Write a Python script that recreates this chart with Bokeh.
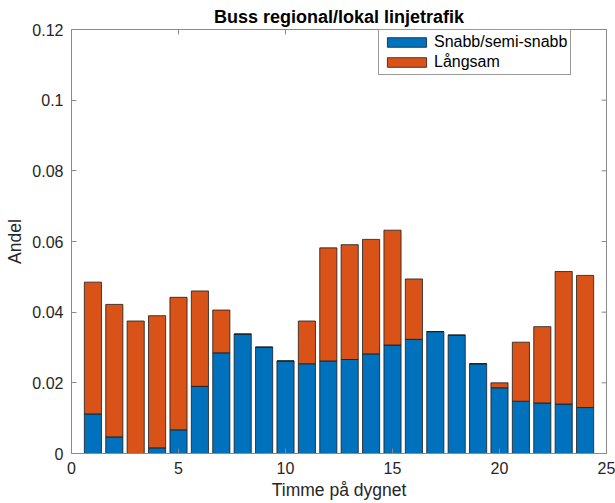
import math
from bokeh.plotting import figure
from bokeh.models import FixedTicker, Range1d, Legend, LegendItem
from bokeh.embed import file_html
from bokeh.resources import INLINE

hours = list(range(1, 25))
snabb = [0.0112, 0.0047, 0.0000, 0.0016, 0.0067, 0.0190, 0.0285, 0.0338,
         0.0301, 0.0262, 0.0254, 0.0262, 0.0266, 0.0282, 0.0307, 0.0323,
         0.0345, 0.0335, 0.0254, 0.0186, 0.0148, 0.0143, 0.0140, 0.0130]
total = [0.0485, 0.0422, 0.0375, 0.0390, 0.0442, 0.0460, 0.0406, 0.0338,
         0.0301, 0.0262, 0.0375, 0.0582, 0.0591, 0.0606, 0.0632, 0.0494,
         0.0345, 0.0335, 0.0254, 0.0200, 0.0315, 0.0359, 0.0515, 0.0504]
langsam = [round(t - s, 4) for t, s in zip(total, snabb)]

x_ticks = [0, 5, 10, 15, 20, 25]
y_ticks = [0, 0.02, 0.04, 0.06, 0.08, 0.1, 0.12]
y_labels = ["0", "0.02", "0.04", "0.06", "0.08", "0.1", "0.12"]
X_MIN, X_MAX = 0, 25
Y_MIN, Y_MAX = 0, 0.12

FONT = "Liberation Sans"
AX = "#8a8a8a"
TXT = "#262626"

p = figure(width=615, height=503, output_backend="svg", toolbar_location=None,
           x_range=Range1d(X_MIN, X_MAX), y_range=Range1d(Y_MIN, Y_MAX),
           min_border_left=71, min_border_right=9, min_border_top=29, min_border_bottom=50)

p.title.text = "Buss regional/lokal linjetrafik"
p.title.align = "center"
p.title.text_font = FONT
p.title.text_font_size = "18px"
p.title.text_font_style = "bold"
p.title.text_color = "black"
p.title.standoff = 5
p.title.offset = 0

p.xgrid.visible = False
p.ygrid.visible = False
p.outline_line_color = AX
p.outline_line_width = 1

src = dict(x=hours, snabb=snabb, langsam=langsam)
r = p.vbar_stack(["snabb", "langsam"], x="x", width=0.8, source=src,
                 color=["#0072BD", "#D95319"], line_color="#1a1a1a", line_width=0.8)

# inward tick marks on the top and right edges (box on)
p.scatter(x=x_ticks, y=[Y_MAX] * len(x_ticks), marker="dash", size=10,
          angle=math.pi / 2, line_color=AX, line_width=1)
p.scatter(x=[X_MAX] * len(y_ticks), y=y_ticks, marker="dash", size=10,
          line_color=AX, line_width=1)

for ax in p.xaxis:
    ax.ticker = FixedTicker(ticks=x_ticks)
for ax in p.yaxis:
    ax.ticker = FixedTicker(ticks=y_ticks)
    ax.major_label_overrides = {t: l for t, l in zip(y_ticks, y_labels)}

p.xaxis.axis_label = "Timme på dygnet"
p.yaxis.axis_label = "Andel"
for ax in p.xaxis + p.yaxis:
    ax.axis_line_color = AX
    ax.major_tick_line_color = AX
    ax.major_tick_in = 5
    ax.major_tick_out = 0
    ax.minor_tick_line_color = None
    ax.major_label_text_font = FONT
    ax.major_label_text_font_size = "16px"
    ax.major_label_text_color = TXT
    ax.axis_label_text_font = FONT
    ax.axis_label_text_font_size = "17.5px"
    ax.axis_label_text_font_style = "normal"
    ax.axis_label_text_color = TXT
p.xaxis.major_label_standoff = 8
p.xaxis.axis_label_standoff = 3
p.yaxis.major_label_standoff = 8
p.yaxis.axis_label_standoff = 4

legend = Legend(items=[LegendItem(label="Snabb/semi-snabb", renderers=[r[0]]),
                       LegendItem(label="Långsam", renderers=[r[1]])],
                location=(307, 378))
legend.label_text_font = FONT
legend.label_text_font_size = "16px"
legend.label_text_color = "black"
legend.glyph_width = 49
legend.glyph_height = 12
legend.label_height = 14
legend.spacing = 2
legend.padding = 3
legend.margin = 0
legend.label_standoff = 3
legend.border_line_color = "#333333"
legend.border_line_width = 1
legend.background_fill_alpha = 1
p.add_layout(legend, "center")

open("out.html", "w").write(file_html(p, INLINE))
